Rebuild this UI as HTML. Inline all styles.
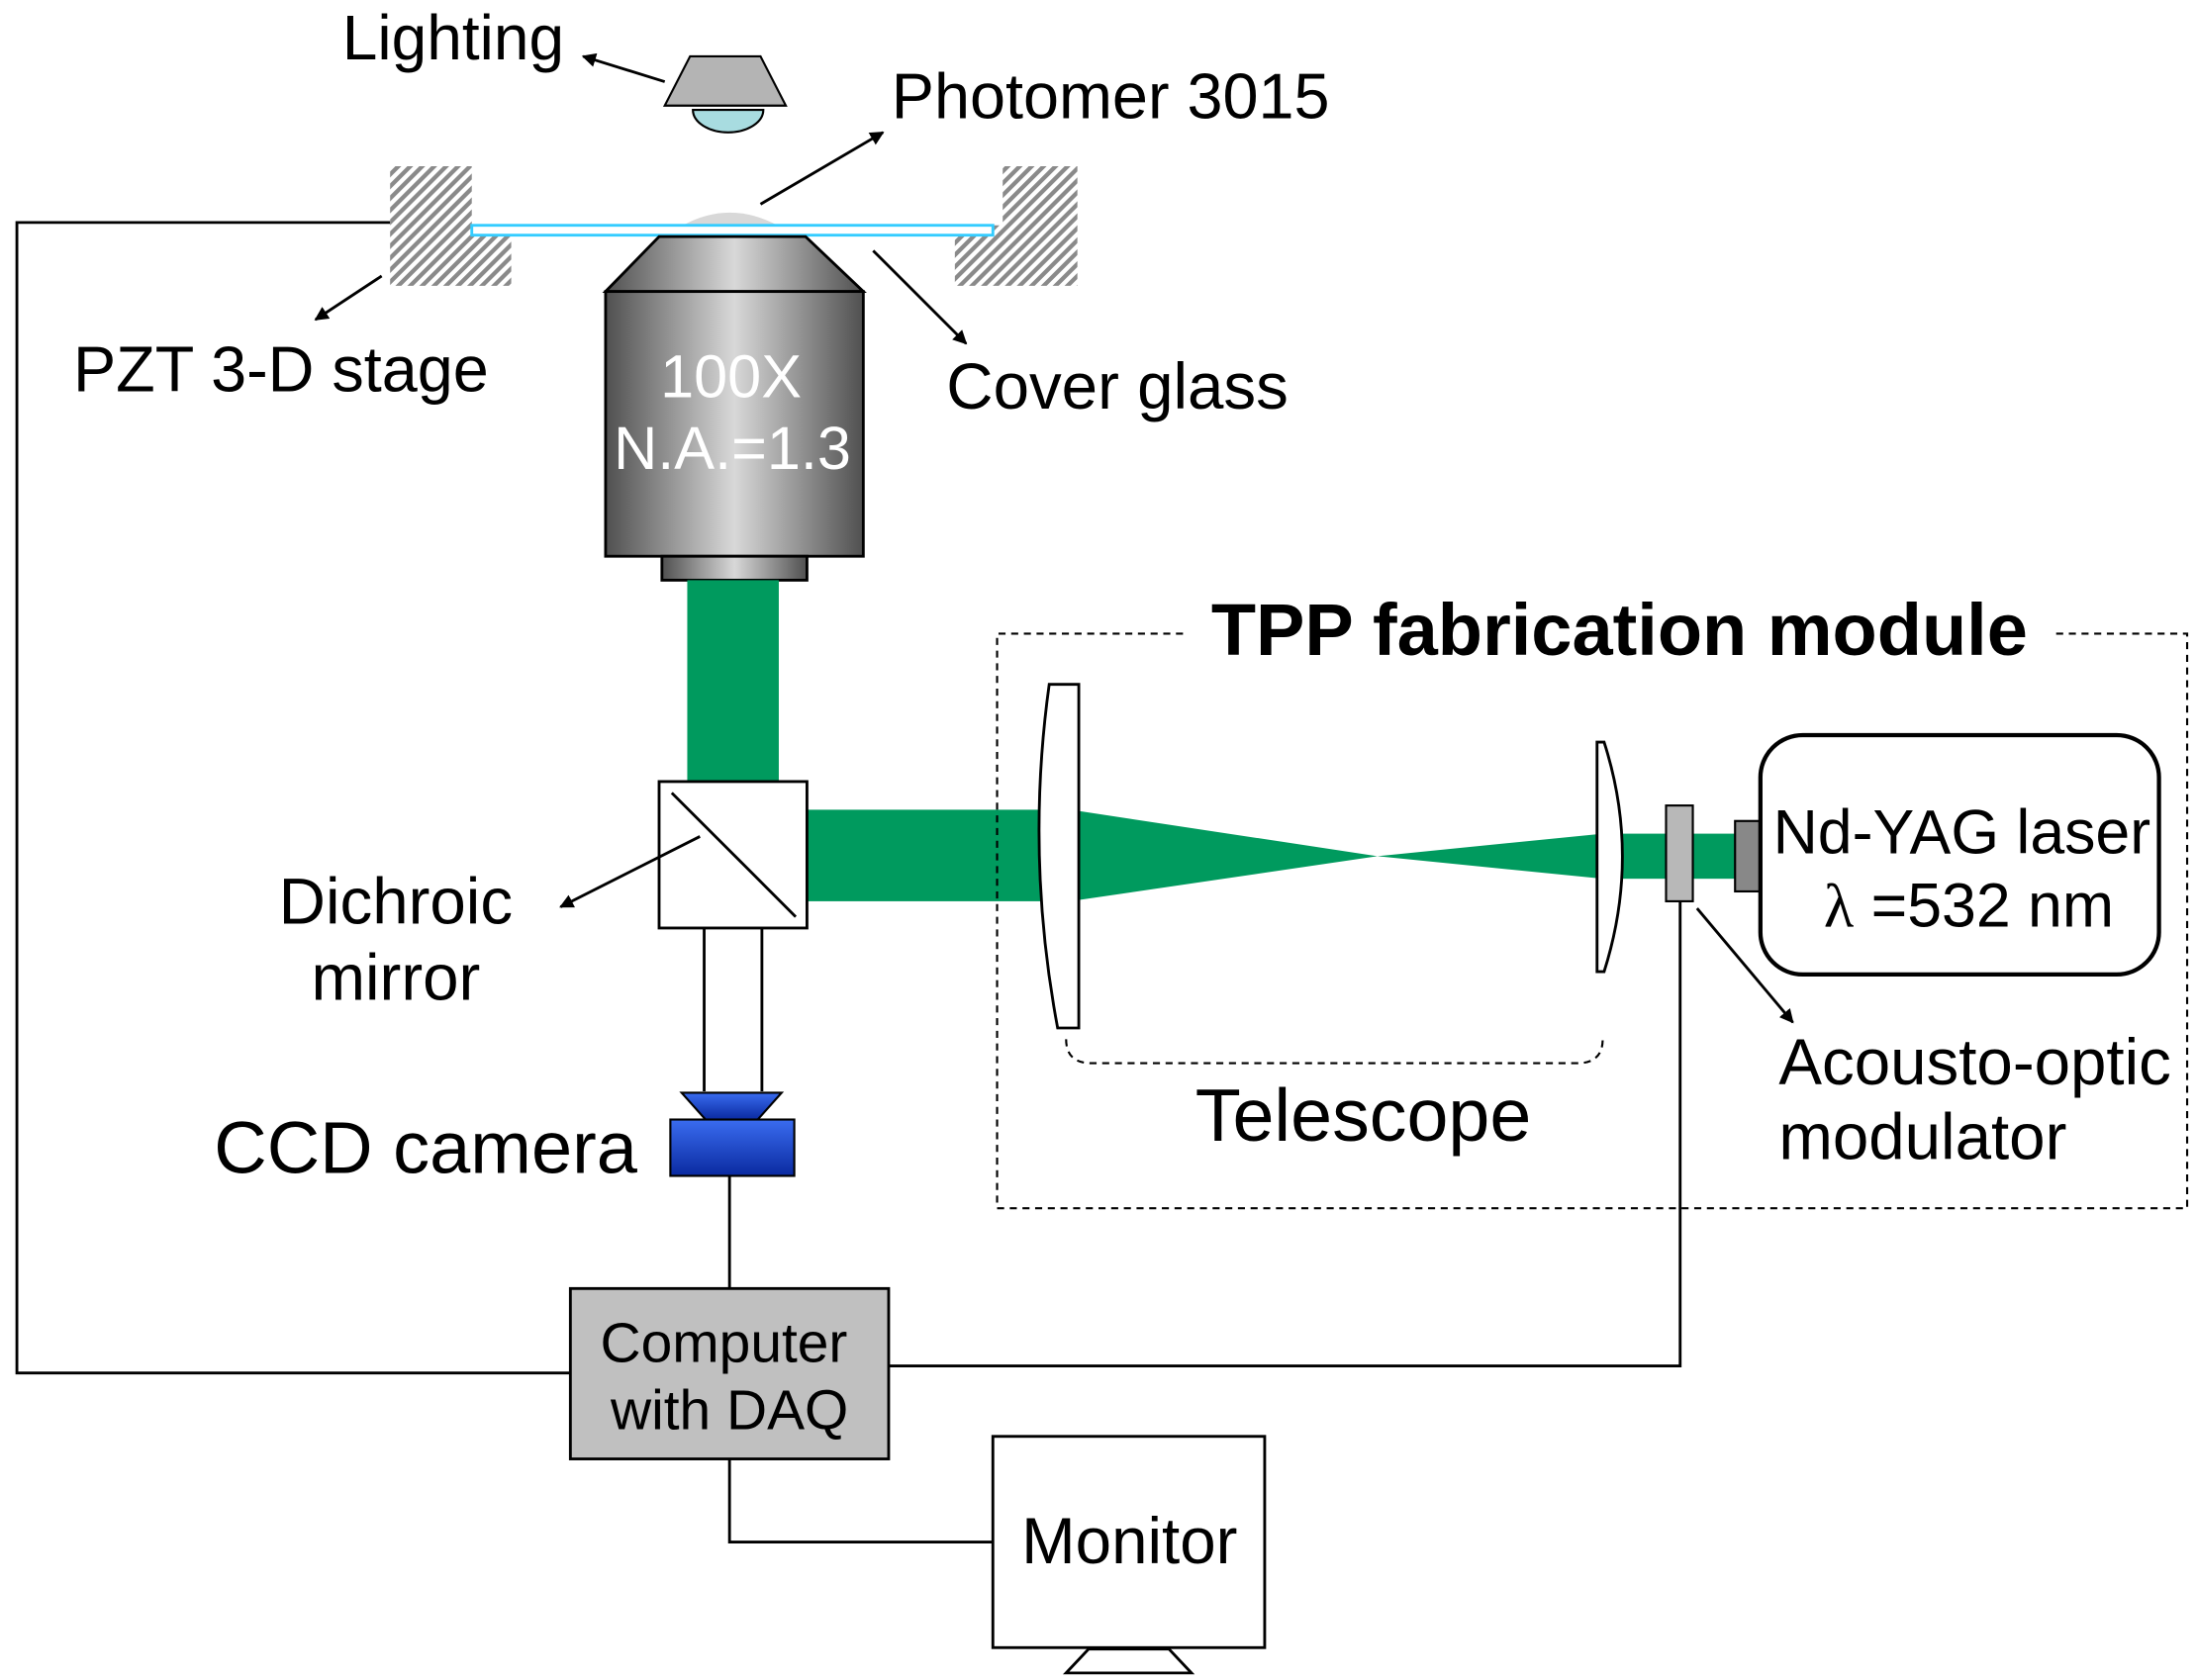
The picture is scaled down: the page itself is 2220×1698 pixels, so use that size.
<!DOCTYPE html>
<html><head><meta charset="utf-8"><style>
html,body{margin:0;padding:0;background:#fff;}
svg{display:block;}
text{font-family:"Liberation Sans",Arial,sans-serif;fill:#000;}
</style></head><body>
<svg width="2220" height="1698" viewBox="0 0 1560 1193" preserveAspectRatio="none" xmlns="http://www.w3.org/2000/svg">
<defs>
<pattern id="hatch" width="6" height="6" patternUnits="userSpaceOnUse" patternTransform="rotate(45)">
<rect width="6" height="6" fill="#fff"/><rect width="3" height="6" fill="#8a8a8a"/>
</pattern>
<linearGradient id="obj" x1="0" x2="1" y1="0" y2="0">
<stop offset="0" stop-color="#505050"/><stop offset="0.5" stop-color="#d8d8d8"/><stop offset="1" stop-color="#505050"/>
</linearGradient>
<linearGradient id="ccd" x1="0" x2="0" y1="0" y2="1">
<stop offset="0" stop-color="#3a6cf0"/><stop offset="1" stop-color="#0a2aa0"/>
</linearGradient>
<marker id="ah" markerWidth="10" markerHeight="10" refX="9" refY="5" orient="auto" markerUnits="userSpaceOnUse">
<path d="M0,0 L10,5 L0,10 Z" fill="#000"/>
</marker>
</defs>

<polyline points="277,158 12,158 12,975 405,975" fill="none" stroke="#000" stroke-width="2"/>
<polyline points="631,970 1193,970 1193,640" fill="none" stroke="#000" stroke-width="2"/>
<polyline points="518,1036 518,1095 705,1095" fill="none" stroke="#000" stroke-width="2"/>
<line x1="518" y1="835" x2="518" y2="915" stroke="#000" stroke-width="2"/>

<text x="243" y="42" font-size="45">Lighting</text>
<line x1="472" y1="58" x2="414" y2="40" stroke="#000" stroke-width="2" marker-end="url(#ah)"/>
<path d="M492,78 A25,16 0 0 0 542,78 Z" fill="#a8dce0" stroke="#000" stroke-width="1.5"/>
<polygon points="490,40 540,40 558,75 472,75" fill="#b4b4b4" stroke="#000" stroke-width="1.5"/>

<text x="633" y="84" font-size="45.5">Photomer 3015</text>
<line x1="540" y1="145" x2="627" y2="94" stroke="#000" stroke-width="2" marker-end="url(#ah)"/>

<polygon points="277,118 335,118 335,160 363,160 363,203 277,203" fill="url(#hatch)"/>
<polygon points="712,118 765,118 765,203 678,203 678,160 712,160" fill="url(#hatch)"/>
<path d="M485,160 Q518,142 552,160 Z" fill="#d8d8d8"/>
<rect x="335" y="160" width="370" height="7" fill="#fff" stroke="#33ccff" stroke-width="2"/>

<polygon points="468,168 572,168 613,207 430,207" fill="url(#obj)" stroke="#000" stroke-width="2"/>
<rect x="430" y="207" width="183" height="188" fill="url(#obj)" stroke="#000" stroke-width="2"/>
<rect x="470" y="395" width="103" height="17" fill="url(#obj)" stroke="#000" stroke-width="2"/>
<text x="519" y="282" font-size="43" text-anchor="middle" style="fill:#fff">100X</text>
<text x="520" y="333" font-size="43" text-anchor="middle" style="fill:#fff">N.A.=1.3</text>

<line x1="271" y1="196" x2="224" y2="227" stroke="#000" stroke-width="2" marker-end="url(#ah)"/>
<text x="52" y="278" font-size="45.5">PZT 3-D stage</text>
<line x1="620" y1="178" x2="686" y2="244" stroke="#000" stroke-width="2" marker-end="url(#ah)"/>
<text x="672" y="290" font-size="46">Cover glass</text>

<rect x="488" y="412" width="65" height="143" fill="#009a5e"/>
<rect x="573" y="575" width="170" height="65" fill="#009a5e"/>
<polygon points="760,575 978,608 760,640" fill="#009a5e"/>
<polygon points="1138,592 978,608 1138,624" fill="#009a5e"/>
<rect x="1148" y="592" width="85" height="32" fill="#009a5e"/>

<rect x="468" y="555" width="105" height="104" fill="#fff" stroke="#000" stroke-width="2"/>
<line x1="477" y1="563" x2="565" y2="651" stroke="#000" stroke-width="2"/>
<line x1="497" y1="594" x2="398" y2="644" stroke="#000" stroke-width="2" marker-end="url(#ah)"/>
<text x="281" y="656" font-size="46" text-anchor="middle">Dichroic</text>
<text x="281" y="710" font-size="46" text-anchor="middle">mirror</text>

<line x1="500" y1="659" x2="500" y2="775" stroke="#000" stroke-width="2"/>
<line x1="541" y1="659" x2="541" y2="775" stroke="#000" stroke-width="2"/>

<polygon points="484,776 555,776 538,795 501,795" fill="url(#ccd)" stroke="#000" stroke-width="1.5"/>
<rect x="476" y="795" width="88" height="40" fill="url(#ccd)" stroke="#000" stroke-width="1.5"/>
<text x="152" y="833" font-size="52">CCD camera</text>

<rect x="405" y="915" width="226" height="121" fill="#c0c0c0" stroke="#000" stroke-width="2"/>
<text x="514" y="967" font-size="40" text-anchor="middle">Computer</text>
<text x="518" y="1015" font-size="40" text-anchor="middle">with DAQ</text>

<rect x="705" y="1020" width="193" height="150" fill="#fff" stroke="#000" stroke-width="2"/>
<polygon points="773,1171 830,1171 846,1188 757,1188" fill="#fff" stroke="#000" stroke-width="2"/>
<text x="802" y="1110" font-size="46" text-anchor="middle">Monitor</text>

<path d="M840,450 L708,450 L708,858 L1553,858 L1553,450 L1460,450" fill="none" stroke="#000" stroke-width="1.5" stroke-dasharray="5,4"/>
<text x="860" y="465" font-size="52" font-weight="bold">TPP fabrication module</text>

<path d="M745,486 L766,486 L766,730 L751,730 Q728,608 745,486 Z" fill="#fff" stroke="#000" stroke-width="2"/>
<path d="M1134,527 L1139,527 Q1165,608 1139,690 L1134,690 Z" fill="#fff" stroke="#000" stroke-width="2"/>
<path d="M757,738 Q757,755 775,755 L1120,755 Q1138,755 1138,738" fill="none" stroke="#000" stroke-width="1.5" stroke-dasharray="5,4"/>
<text x="968" y="810" font-size="53" text-anchor="middle">Telescope</text>

<rect x="1183" y="572" width="19" height="68" fill="#b8b8b8" stroke="#000" stroke-width="1.5"/>
<rect x="1232" y="583" width="18" height="50" fill="#888" stroke="#000" stroke-width="1.5"/>
<rect x="1250" y="522" width="283" height="170" rx="30" fill="#fff" stroke="#000" stroke-width="3"/>
<text x="1393" y="606" font-size="44" text-anchor="middle">Nd-YAG laser</text>
<text x="1398" y="658" font-size="44" text-anchor="middle"><tspan font-family="Liberation Serif">λ</tspan> =532 nm</text>
<line x1="1205" y1="645" x2="1273" y2="726" stroke="#000" stroke-width="2" marker-end="url(#ah)"/>
<text x="1263" y="770" font-size="46">Acousto-optic</text>
<text x="1263" y="823" font-size="46">modulator</text>
</svg>
</body></html>
